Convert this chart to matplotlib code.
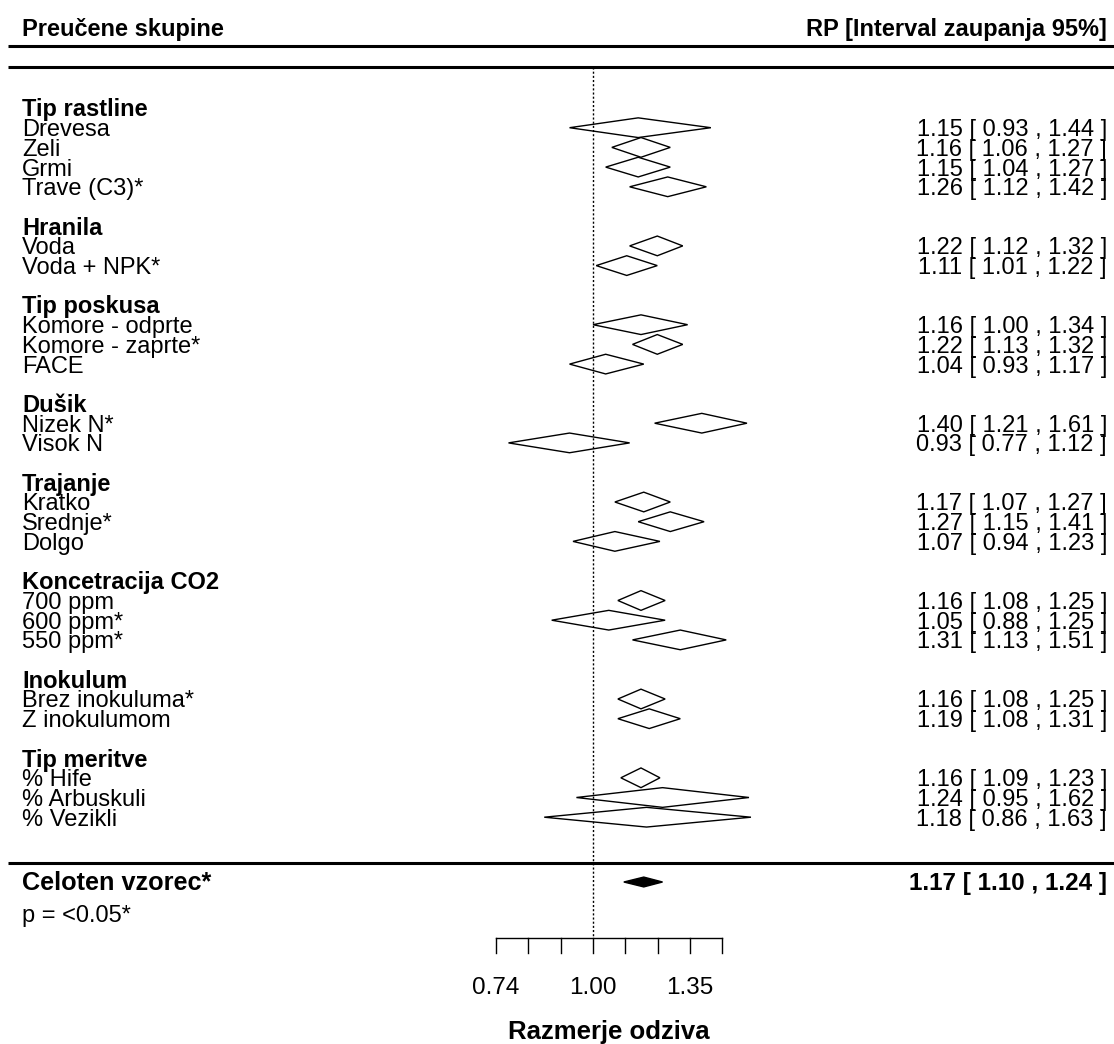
import numpy as np
import matplotlib
matplotlib.use('Agg')
import matplotlib.pyplot as plt
from matplotlib.patches import Polygon

plt.rcParams['font.family'] = ['Liberation Sans', 'DejaVu Sans']

group_names = ['Tip rastline', 'Hranila', 'Tip poskusa', 'Dušik',
               'Trajanje', 'Koncetracija CO2', 'Inokulum', 'Tip meritve']
group_sizes = [4, 2, 3, 2, 3, 3, 2, 3]
sub_labels = ['Drevesa', 'Zeli', 'Grmi', 'Trave (C3)*',
              'Voda', 'Voda + NPK*',
              'Komore - odprte', 'Komore - zaprte*', 'FACE',
              'Nizek N*', 'Visok N',
              'Kratko', 'Srednje*', 'Dolgo',
              '700 ppm', '600 ppm*', '550 ppm*',
              'Brez inokuluma*', 'Z inokulumom',
              '% Hife', '% Arbuskuli', '% Vezikli']
rr = [1.15, 1.16, 1.15, 1.26,
      1.22, 1.11,
      1.16, 1.22, 1.04,
      1.40, 0.93,
      1.17, 1.27, 1.07,
      1.16, 1.05, 1.31,
      1.16, 1.19,
      1.16, 1.24, 1.18]
ci_lb = [0.93, 1.06, 1.04, 1.12,
         1.12, 1.01,
         1.00, 1.13, 0.93,
         1.21, 0.77,
         1.07, 1.15, 0.94,
         1.08, 0.88, 1.13,
         1.08, 1.08,
         1.09, 0.95, 0.86]
ci_ub = [1.44, 1.27, 1.27, 1.42,
         1.32, 1.22,
         1.34, 1.32, 1.17,
         1.61, 1.12,
         1.27, 1.41, 1.23,
         1.25, 1.25, 1.51,
         1.25, 1.31,
         1.23, 1.62, 1.63]
overall_rr = 1.17
overall_lb = 1.10
overall_ub = 1.24
x_ticks = np.arange(-0.3, 0.41, 0.1)   # log scale ticks
x_tick_labels_at = [-0.3, 0.0, 0.3]

# pixel layout of the original (1114 x 1044)
W, H = 1114, 1044
X_ONE = 593.0        # pixel of RR = 1
PX_PER = 323.3       # pixels per log unit
Y_ROW0 = 108.0       # pixel of first row
ROW = 19.7           # pixels per row

def px_x(p):
    return (p - X_ONE) / PX_PER

def px_y(p):
    return (p - Y_ROW0) / ROW

fig = plt.figure(figsize=(W / 100, H / 100), dpi=100)
ax = fig.add_axes([0, 0, 1, 1])
ax.set_xlim(px_x(0), px_x(W))
ax.set_ylim(px_y(H), px_y(0))
ax.axis('off')

fs = 17
x_left = px_x(22)
x_right = px_x(1107)
base_off = 0.43

# header
ax.text(x_left, px_y(36), 'Preučene skupine', fontsize=fs, fontweight='bold', va='baseline', ha='left')
ax.text(x_right, px_y(36), 'RP [Interval zaupanja 95%]', fontsize=fs, fontweight='bold', va='baseline', ha='right')
ax.plot([px_x(8), px_x(W)], [px_y(46)] * 2, color='black', lw=2.2, solid_capstyle='butt')
ax.plot([px_x(8), px_x(W)], [px_y(67)] * 2, color='black', lw=2.2, solid_capstyle='butt')

# rows
k = 0
i = 0
for g, n in zip(group_names, group_sizes):
    ax.text(x_left, k + base_off, g, fontsize=fs, fontweight='bold', va='baseline', ha='left')
    for j in range(n):
        y = k + 1 + j
        lo, est, hi = np.log(ci_lb[i]), np.log(rr[i]), np.log(ci_ub[i])
        ax.add_patch(Polygon([(lo, y), (est, y - 0.5), (hi, y), (est, y + 0.5)],
                             closed=True, fill=False, edgecolor='black', lw=1.0))
        ax.text(x_left, y + base_off, sub_labels[i], fontsize=fs, va='baseline', ha='left')
        ax.text(x_right, y + base_off,
                f'{rr[i]:.2f} [ {ci_lb[i]:.2f} , {ci_ub[i]:.2f} ]',
                fontsize=fs, va='baseline', ha='right')
        i += 1
    k += n + 2

# overall
y_axis = px_y(938)
ax.plot([0, 0], [px_y(67), y_axis], color='black', lw=1.0, linestyle=(0, (1.5, 1.5)))
ax.plot([px_x(8), px_x(W)], [px_y(863)] * 2, color='black', lw=2.2, solid_capstyle='butt')
y_ov = px_y(882)
ax.add_patch(Polygon([(np.log(overall_lb), y_ov), (np.log(overall_rr), y_ov - 0.25),
                      (np.log(overall_ub), y_ov), (np.log(overall_rr), y_ov + 0.25)],
                     closed=True, facecolor='black', edgecolor='black', lw=1.0))
ax.text(x_left, y_ov + base_off, 'Celoten vzorec*', fontsize=18.2, fontweight='bold', va='baseline', ha='left')
ax.text(x_right, y_ov + base_off,
        f'{overall_rr:.2f} [ {overall_lb:.2f} , {overall_ub:.2f} ]',
        fontsize=17.5, fontweight='bold', va='baseline', ha='right')
ax.text(x_left, px_y(922), 'p = <0.05*', fontsize=fs, va='baseline', ha='left')

# x axis
ax.plot([x_ticks[0], x_ticks[-1]], [y_axis] * 2, color='black', lw=1.0)
for t in x_ticks:
    ax.plot([t, t], [y_axis, px_y(953)], color='black', lw=1.0)
for t in x_tick_labels_at:
    ax.text(t, px_y(994), f'{np.exp(t):.2f}', fontsize=17.5, va='baseline', ha='center')
ax.text((x_ticks[0] + x_ticks[-1]) / 2, px_y(1039), 'Razmerje odziva',
        fontsize=18.5, fontweight='bold', va='baseline', ha='center')

fig.savefig('out.png', dpi=100)
